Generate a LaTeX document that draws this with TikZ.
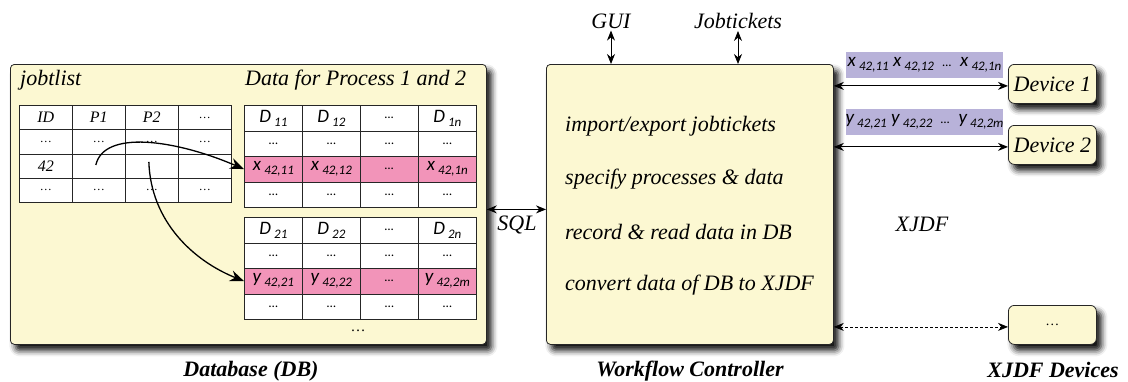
\documentclass[tikz,border=0pt]{standalone}
\usepackage{fontspec}
\setmainfont{Liberation Serif}
\newfontfamily\cellfont{Carlito}
\usetikzlibrary{arrows.meta,shadows.blur}

\definecolor{boxfill}{HTML}{FCF8D2}
\definecolor{rowpink}{HTML}{F294B9}
\definecolor{tagfill}{HTML}{B8B2D9}

% lowered index used in the data cells
\newcommand\lowidx[1]{\,\raisebox{-.45ex}{\fontsize{13}{13}\selectfont #1}}

\begin{document}
\begin{tikzpicture}[x=1pt,y=-1pt,
  panel/.style={draw=black!85, line width=0.8pt, fill=boxfill, rounded corners=4pt,
    inner sep=0pt, anchor=north west,
    blur shadow={shadow xshift=5pt, shadow yshift=-6pt, shadow blur radius=6pt, shadow opacity=95}},
  label/.style={font=\itshape\fontsize{22}{24}\selectfont, inner sep=1pt},
  caption/.style={font=\bfseries\itshape\fontsize{22}{24}\selectfont, inner sep=1pt},
  jcell/.style={draw=black!85, line width=0.7pt, fill=white, anchor=north west, inner sep=0pt,
    minimum width=53pt, minimum height=24.25pt, font=\itshape\fontsize{16}{16}\selectfont},
  dcell/.style={draw=black!85, line width=0.7pt, fill=white, anchor=north west, inner sep=0pt,
    minimum width=58pt, minimum height=25.5pt, font=\cellfont\itshape\fontsize{19}{19}\selectfont},
  pcell/.style={dcell, fill=rowpink},
  tag/.style={fill=tagfill, inner sep=0pt, minimum width=157pt, minimum height=26pt,
    font=\cellfont\itshape\fontsize{19}{19}\selectfont},
  dbl/.style={{Stealth[length=10pt,width=8pt]}-{Stealth[length=10pt,width=8pt]}, line width=0.9pt},
  flow/.style={-{Stealth[length=14pt,width=11pt]}, line width=1.3pt}
]
\useasboundingbox (0,0) rectangle (1128,381);

% ---------- database panel ----------
\node[panel, minimum width=476pt, minimum height=280pt] (db) at (10,64) {};
\node[label, anchor=west] (jl) at (19,80) {jobtlist};
\node[label, anchor=west] (dp) at (244,80) {Data for Process 1 and 2};

% job list table
\foreach \c/\t in {1/ID,2/P1,3/P2,4/\fontsize{12}{12}\selectfont…}
  \node[jcell] (j-1-\c) at ({19+53*(\c-1)},105) {\t};
\foreach \c in {1,...,4}
  \node[jcell, font=\fontsize{12}{12}\selectfont] (j-2-\c) at ({19+53*(\c-1)},129.25) {…};
\foreach \c/\t in {1/42,2/,3/,4/}
  \node[jcell] (j-3-\c) at ({19+53*(\c-1)},153.5) {\t};
\foreach \c in {1,...,4}
  \node[jcell, font=\fontsize{12}{12}\selectfont] (j-4-\c) at ({19+53*(\c-1)},177.75) {…};

% data table of process 1
\foreach \c/\t in {1/{D\lowidx{11}},2/{D\lowidx{12}},3/{\fontsize{13}{13}\selectfont…},4/{D\lowidx{1n}}}
  \node[dcell] (a-1-\c) at ({244+58*(\c-1)},105) {\t};
\foreach \c in {1,...,4}
  \node[dcell, font=\cellfont\fontsize{13}{13}\selectfont] (a-2-\c) at ({244+58*(\c-1)},130.5) {…};
\foreach \c/\t in {1/{x\lowidx{42,11}},2/{x\lowidx{42,12}},3/{\fontsize{13}{13}\selectfont…},4/{x\lowidx{42,1n}}}
  \node[pcell] (a-3-\c) at ({244+58*(\c-1)},156) {\t};
\foreach \c in {1,...,4}
  \node[dcell, font=\cellfont\fontsize{13}{13}\selectfont] (a-4-\c) at ({244+58*(\c-1)},181.5) {…};

% data table of process 2
\foreach \c/\t in {1/{D\lowidx{21}},2/{D\lowidx{22}},3/{\fontsize{13}{13}\selectfont…},4/{D\lowidx{2n}}}
  \node[dcell] (b-1-\c) at ({244+58*(\c-1)},217) {\t};
\foreach \c in {1,...,4}
  \node[dcell, font=\cellfont\fontsize{13}{13}\selectfont] (b-2-\c) at ({244+58*(\c-1)},242.5) {…};
\foreach \c/\t in {1/{y\lowidx{42,21}},2/{y\lowidx{42,22}},3/{\fontsize{13}{13}\selectfont…},4/{y\lowidx{42,2m}}}
  \node[pcell] (b-3-\c) at ({244+58*(\c-1)},268) {\t};
\foreach \c in {1,...,4}
  \node[dcell, font=\cellfont\fontsize{13}{13}\selectfont] (b-4-\c) at ({244+58*(\c-1)},293.5) {…};

\node[font=\fontsize{15}{15}\selectfont] (more) at (358,331) {…};

% links from job 42 to its data rows
\draw[flow] ([shift={(-3,-1)}]j-3-2.center) .. controls +(8,-35) and +(-70,-30) .. (a-3-1.west);
\draw[flow] ([shift={(-3,-4)}]j-3-3.center) .. controls +(2,60) and +(-50,-20) .. (b-3-1.west);

% ---------- workflow controller ----------
\node[panel, minimum width=287pt, minimum height=280pt] (wf) at (546,64) {};
\node[label, anchor=west] (t1) at (564,126) {import/export jobtickets};
\node[label, anchor=west] (t2) at (564,179) {specify processes \& data};
\node[label, anchor=west] (t3) at (564,232) {record \& read data in DB};
\node[label, anchor=west] (t4) at (564,285) {convert data of DB to XJDF};

\node[label] (gui) at (611,21) {GUI};
\node[label] (jt) at (738,21) {Jobtickets};
\draw[dbl] ([yshift=-1pt]gui.south) -- (gui.south |- wf.north);
\draw[dbl] ([yshift=-1pt]jt.south) -- (jt.south |- wf.north);

% SQL link
\draw[dbl] ([yshift=-5pt]db.east) -- ([yshift=-5pt]wf.west);
\node[label] (sql) at (517,225) {SQL};

% ---------- devices ----------
\node[panel, rounded corners=6pt, minimum width=88pt, minimum height=39pt, font=\itshape\fontsize{22}{24}\selectfont] (d1) at (1008,64) {Device 1};
\node[panel, rounded corners=6pt, minimum width=88pt, minimum height=39pt, font=\itshape\fontsize{22}{24}\selectfont] (d2) at (1008,125) {Device 2};
\node[panel, rounded corners=6pt, minimum width=88pt, minimum height=39pt, font=\fontsize{14}{14}\selectfont] (d3) at (1008,305) {…};

\draw[dbl] ([yshift=-2pt]d1.west -| wf.east) -- ([yshift=-2pt]d1.west);
\draw[dbl] ([yshift=-2pt]d2.west -| wf.east) -- ([yshift=-2pt]d2.west);
\draw[dbl, densely dashed, line width=0.7pt] ([yshift=-2pt]d3.west -| wf.east) -- ([yshift=-2pt]d3.west);

\node[tag] (x1) at (924.5,65) {x\lowidx{42,11} x\lowidx{42,12} \ {\fontsize{13}{13}\selectfont…} \ x\lowidx{42,1n}};
\node[tag] (y1) at (924.5,122) {y\lowidx{42,21} y\lowidx{42,22} \ {\fontsize{13}{13}\selectfont…} \ y\lowidx{42,2m}};

\node[label] (xjdf) at (922,224) {XJDF};

% ---------- captions ----------
\node[caption] (cdb) at (251,371) {Database (DB)};
\node[caption] (cwf) at (690,371) {Workflow Controller};
\node[caption] (cdv) at (1053,370) {XJDF Devices};
\end{tikzpicture}
\end{document}
